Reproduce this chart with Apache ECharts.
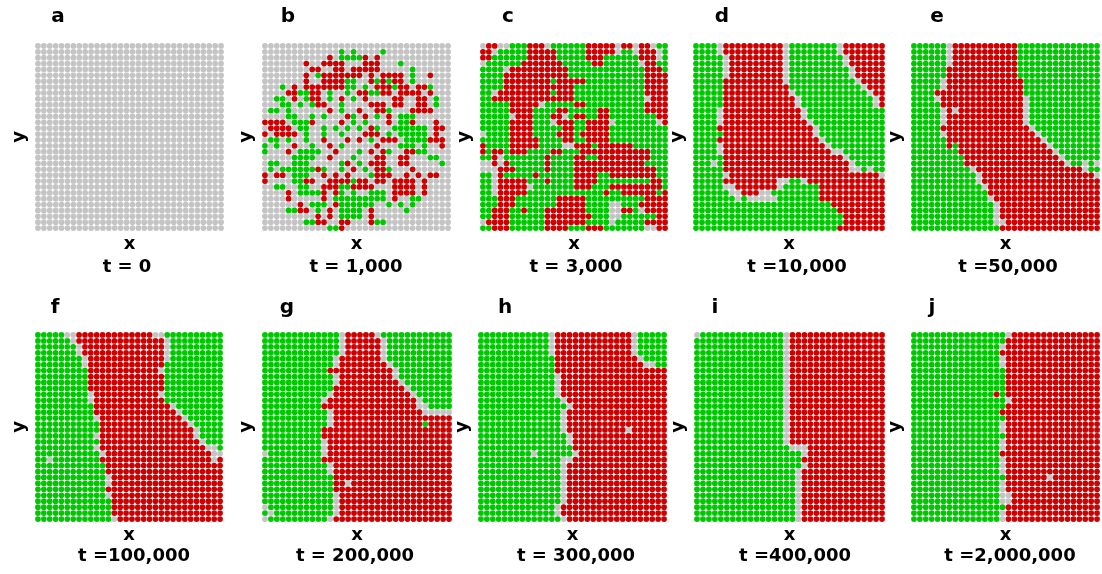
<!DOCTYPE html>
<html><head><meta charset="utf-8">
<script src="https://cdn.jsdelivr.net/npm/echarts@6/dist/echarts.min.js"></script>
<style>html,body{margin:0;padding:0;background:#fff}#c{width:1102px;height:574px}</style>
</head><body><div id="c"></div>
<script>
// ---- data ----
const panelLetters = ['a','b','c','d','e','f','g','h','i','j'];
const timeLabels = ['t = 0','t = 1,000','t = 3,000','t =10,000','t =50,000','t =100,000','t = 200,000','t = 300,000','t =400,000','t =2,000,000'];
// g = green, r = red, . = empty (grey); rows top to bottom
const panelA = [
"................................","................................","................................","................................",
"................................","................................","................................","................................",
"................................","................................","................................","................................",
"................................","................................","................................","................................",
"................................","................................","................................","................................",
"................................","................................","................................","................................",
"................................","................................","................................","................................",
"................................","................................","................................","................................"
];
const panelB = [
"................................",
".............g.g....g...........",
"...........r.ggggr.r............",
".......r..rrrr...rrr...g........",
"........rr..rr.rrrrr.....g......",
".......r.grrrrrrr.r.rrrr.g..r...",
".......r..rrrrgg..rgrgrr.g......",
"...g.r.rrrrrrrgg.g.rrrgrr.rrg...",
"....rrggrr.g..g.rrggrr.rrrr.r...",
"..gg.r.grr.g.r.g.r....rr..rr.g..",
"...gg.g.grr..g....rrr.rr..rr.g..",
".gg.g......r.g..r..rrg...rrrr...",
"....gg..g.g...rg.r.g.r.ggg......",
"rrrr.gggr....r.g.g...r.ggr...r..",
".rrrr.gg..g.g.g.g.rg..gggggg.rr.",
"r.rrrr.g..g..g...rrr.g.ggggg.r..",
".gg.g..g..r...r.r.g.rrr.ggggrrr.",
"g.g..r..g..r.g.....r...ggg.g..r.",
"g...r.gggg..r...g.r.rg..rrgg....",
".....gggg..r...g...rr..rr...gg..",
".gg..ggg.....gr.g.rrr..rr.....g.",
".g.ggggggrg..g.r.g.rrg...r......",
"r.rr.ggg..r.r.r...grrr..r.r.rr..",
"r....ggrr..rrrrgrr.rr.rrrr.r....",
"..gg..gg..rrrggrrrr...rrrr.r....",
"....r.ggggr.rg.g..ggg.rrrr.r....",
"....r.....r.ggggggggg.r..gg.....",
"......r.ggg.rgggggg..g.g.g......",
"....ggrr.g.r.gggg.r.....g.......",
".........r.r.gggg.r.............",
".......ggrr..rr...rgg...........",
"...........ggr.................."
];
const panelC = [
".rr..gggrrr.ggggggrrrrr.rr.rr.gg",
"rr.gggggrrrrrgggggrrrrr.gg.rrr.g",
"rrggggggrrrrrgggggrrrggggggrrr.g",
".ggggggrrrrrrrgggggrrgggggg.rrgg",
"gggg.rrrrrrrrrrgggggggggggggrrrg",
"ggggrrrrrrrrrrrgggggggggggggrrrr",
"ggggrrrrrrrrgrrrrrggggggggggrrrr",
"ggggrrrrrrrrrrrrggggggggggggrrrr",
"gg.rrrrrrrrrgrrrggggggggggggrrrr",
"ggrrrrrrrrrrrrrrgggggggggggg.rrr",
"gggggrrrrr.gggggrrggggggggggrrrr",
"gggggrrrrggggrrgggggrrggggggrrrr",
"ggggg.rrrgggrr.grrggrrggggggggrr",
"gggggrrrrggg.rrrggrrrr.ggggggg.r",
"gggggrrrrgggggrrggrrrrgggggggggg",
".ggggrrrrggggrrrgrrrrrgggggggggg",
"gggggrrrrrggggrrggrrrrgggggggggg",
"rggggrrrrrgggg..rrrgrrrrrrgggggg",
"rgrrgrrrggggrrgggrrrrrrrrrrrrggg",
"ggr.gggggggrggggrrggrrrrrrrrrggg",
"..r.rggggggrggggrrrrrrrrrrrrgggg",
"...rrrgggggrggggrrrrrrrrrrrrrrgg",
"gg.rgggggrggggggrrrrggrrrrrrrrgg",
"gg.rrrrrgggrggggrrrrgggggggggrrg",
"gg.rrrrr.gggggggrrrgggrrrrrrrrrg",
"gg.rrrrrgggggggggggggrggrrrrrrgr",
"gggrrrgggggggrrrrrggggggggggrrrr",
"gggrrrgggggggrrrrrgggg..gggrrrrr",
"ggrrrggrgggrrrrrrrgggg..rrg.rrrr",
"ggrrrggggggrrrrrrrrggg..ggggggrr",
".rrrrggggggrrrrrrrgggg.gggggrrrr",
"ggrrrggggggrrrrgggrrrggggggg..rr"
];
const panelD = [
"gggg.rrrrrrrrrr.gggggggg.rrrrrrr",
"gggg.rrrrrrrrrr.gggggggg.rrrrrrr",
"ggggg.rrrrrrrrr.ggggggggg.rrrrrr",
"ggggg.rrrrrrrrr.ggggggggg.rrrrrr",
"ggggg.rrrrrrrrr.gggggggggg.rrrrr",
"ggggg.rrrrrrrrr.gggggggggg.rrrrr",
"gggggrrrrrrrrrr.ggggggggggg.rrrr",
"gggggrrrrrrrrrrrgggggggggggg.rrr",
"gggggrrrrrrrrrrr.gggggggggggg.rr",
"gggggrrrrrrrrrrrr.gggggggggggg.r",
"gggggrrrrrrrrrrrr.gggggggggggg.r",
"gggg.rrrrrrrrrrrrr.ggggggggggggg",
"gggg.rrrrrrrrrrrrr.ggggggggggggg",
"gggg.rrrrrrrrrrrrrr.gggggggggggg",
"ggggrrrrrrrrrrrrrrrr.ggggggggggg",
"gggggrrrrrrrrrrrrrrr.ggggggggggg",
"ggggrrrrrrrrrrrrrrrrr.gggggggggg",
"gggg.rrrrrrrrrrrrrrrrr.ggggggggg",
"gggg.rrrrrrrrrrrrrrrrrr..ggggggg",
"gggggrrrrrrrrrrrrrrrrrrrr.gggggg",
"ggg.grrrrrrrrrrrrrrrrrrrrr.ggggg",
"gggggrrrrrrrrrrrrrrrrrrrrr..g.gg",
"ggggg.rrrrrrrrrrrrrrrrrrrrrrrrr.",
"gggggrrrrrrrrr..gg.rrrrrrrrrrrrr",
"ggggg..rrrrrrr.ggggggrrrrrrrrrrr",
"gggggg..rrr..ggggggggrrrrrrrrrrr",
"ggggggg.g.....gggggggrrrrrrrrrrr",
"gggggggggggggggggggggggrrrrrrrrr",
"ggggggggggggggggggggggggrrrrrrrr",
"gggggggggggggggggggggggggrrrrrrr",
"gggggggggggggggggggggggggrrrrrrr",
"ggggggggggggggggggggggggrrrrrrrr"
];
const panelE = [
"gggggg.rrrrrrrrrrrgggggggggggggg",
"gggggg.rrrrrrrrrrrgggggggggggggg",
"gggggg.rrrrrrrrrrrgggggggggggggg",
"gggggg.rrrrrrrrrrrgggggggggggggg",
"ggggggrrrrrrrrrrrrgggggggggggggg",
"ggggggrrrrrrrrrrrrgggggggggggggg",
"ggggg.rrrrrrrrrrrrrggggggggggggg",
"ggggg.rrrrrrrrrrrrrggggggggggggg",
"ggggrrrrrrrrrrrrrrrggggggggggggg",
"gggg.rrrrrrrrrrrrrr.gggggggggggg",
"gggggrrrrrrrrrrrrrr.gggggggggggg",
"ggggg.r.rrrrrrrrrrr.gggggggggggg",
"ggggg.rrrrrrrrrrrrr.gggggggggggg",
"ggggg.rrrrrrrrrrrrr.gggggggggggg",
"gggggrrrrrrrrrrrrrrr.ggggggggggg",
"ggggg.rrrrrrrrrrrrrrr.gggggggggg",
"ggggggrrrrrrrrrrrrrrrr.ggggggggg",
"ggggggrgrrrrrrrrrrrrrrr.gggggggg",
"ggggggggrrrrrrrrrrrrrrrr.ggggggg",
"gggggggggrrrrrrrrrrrrrrrr.gggggg",
"gggggggggrrrrrrrrrrrrrrrrr.gg.g.",
"gggggggggg.rrrrrrrrrrrrrrrrrr.gg",
"ggggggggggg.rrrrrrrrrrrrrrrrrrr.",
"ggggggggggg.rrrrrrrrrrrrrrrrrrrr",
"gggggggggggg.rrrrrrrrrrrrrrrrrrr",
"gggggggggggggrrrrrrrrrrrrrrrrrrr",
"ggggggggggggg.rrrrrrrrrrrrrrrrrr",
"gggggggggggggg.rrrrrrrrrrrrrrrrr",
"gggggggggggggg.rrrrrrrrrrrrrrrrr",
"gggggggggggggg.rrrrrrrrrrrrrrrrr",
"gggggggggggggg..rrrrrrrrrrrrrrrr",
"gggggggggggggggrrrrrrrrrrrrrrrrr"
];
const panelF = [
"ggggg..rrrrrrrrrrrrr..gggggggggg",
"gggggg.rrrrrrrrrrrrrrr.ggggggggg",
"ggggggg.rrrrrrrrrrrrrr.ggggggggg",
"ggggggg.rrrrrrrrrrrrrr.ggggggggg",
"gggggggg.rrrrrrrrrrrrr.ggggggggg",
"gggggggg.rrrrrrrrrrrrrgggggggggg",
"gggggggggrrrrrrrrrrrr.gggggggggg",
"gggggggggrrrrrrrrrrrrrgggggggggg",
"gggggggggrrrrrrrrrrrrrgggggggggg",
"gggggggggrrrrrrrrrrrrrgggggggggg",
"ggggggggg.rrrrrrrrrrr.gggggggggg",
"ggggggggg.rrrrrrrrrrrrgggggggggg",
"ggggggggggrrrrrrrrrrrrr.gggggggg",
"ggggggggggrrrrrrrrrrrrrr.ggggggg",
"gggggggggg.rrrrrrrrrrrrrr.gggggg",
"gggggggggggrrrrrrrrrrrrrrr.ggggg",
"gggggggggggrrrrrrrrrrrrrrrr.gggg",
"gggggggggg.rrrrrrrrrrrrrrrr.gggg",
"gggggggggggrrrrrrrrrrrrrrrrr.ggg",
"gggggggggg.rrrrrrrrrrrrrrrrrr..g",
"ggggggggggg.rrrrrrrrrrrrrrrrrr..",
"gg.ggggggggrrrrrrrrrrrrrrrrrrr.r",
"ggggggggggggrrrrrrrrrrrrrrrrrrrr",
"ggggggggggggrrrrrrrrrrrrrrrrrrrr",
"gggggggggggg.rrrrrrrrrrrrrrrrrrr",
"gggggggggggg.rrrrrrrrrrrrrrrrrrr",
"ggggggggggggrrrrrrrrrrrrrrrrrrrr",
"gggggggggggg.rrrrrrrrrrrrrrrrrrr",
"gggggggggggggrrrrrrrrrrrrrrrrrrr",
"gggggggggggggrrrrrrrrrrrrrrrrrrr",
"gggggggggggggrrrrrrrrrrrrrrrrrrr",
"ggggggggggggg.rrrrrrrrrrrrrrrrrr"
];
const panelG = [
"ggggggggggggg.rrrrr.gggggggggggg",
"ggggggggggggg.rrrrrr.ggggggggggg",
"ggggggggggggg.rrrrrr.ggggggggggg",
"ggggggggggggg.rrrrrr.ggggggggggg",
"gggggggggggg.rrrrrrr.ggggggggggg",
"gggggggggggg.rrrrrrrr.gggggggggg",
"gggggggggggrrrrrrrrrrr.ggggggggg",
"gggggggggggg.rrrrrrrrr.ggggggggg",
"gggggggggggg.rrrrrrrrrr.gggggggg",
"ggggggggggggrrrrrrrrrrrr.ggggggg",
"ggggggggggg.rrrrrrrrrrrrr.gggggg",
"gggggggggg.rrrrrrrrrrrrrrr.ggggg",
"ggggggggggrrrrrrrrrrrrrrrr..gggg",
"ggggggggggg.rrrrrrrrrrrrrrr.....",
"ggggggggggg.rrrrrrrrrrrrrrrrrrrr",
"ggggggggggg.rrrrrrrrrrrrrrrgrrrr",
"ggggggggggrrrrrrrrrrrrrrrrrrrrrr",
"ggggggggggrrrrrrrrrrrrrrrrrrrrrr",
"gggggggggg.rrrrrrrrrrrrrrrrrrrrr",
"gggggggggg.rrrrrrrrrrrrrrrrrrrrr",
".ggggggggg.rrrrrrrrrrrrrrrrrrrrr",
"ggggggggggrrrrrrrrrrrrrrrrrrrrrr",
"ggggggggggg.rrrrrrrrrrrrrrrrrrrr",
"ggggggggggg.rrrrrrrrrrrrrrrrrrrr",
"ggggggggggggrrrrrrrrrrrrrrrrrrrr",
"ggggggggggggrr.rrrrrrrrrrrrrrrrr",
"ggggggggggggrrrrrrrrrrrrrrrrrrrr",
"gggggggggggg.rrrrrrrrrrrrrrrrrrr",
"gggggggggggg.rrrrrrrrrrrrrrrrrrr",
".ggggggggggg.rrrrrrrrrrrrrrrrrrr",
"g.gggggggggg.rrrrrrrrrrrrrrrrrrr",
".gggggggggg.rrrrrrrrrrrrrrrrrrrr"
];
const panelH = [
"gggggggggggg.rrrrrrrrrrrrr.ggggg",
"gggggggggggg.rrrrrrrrrrrrr.ggggg",
"gggggggggggg.rrrrrrrrrrrrr.ggggg",
"gggggggggggg.rrrrrrrrrrrrr.ggggg",
"gggggggggggggrrrrrrrrrrrrrr.gggg",
"gggggggggggggrrrrrrrrrrrrrrr..gg",
"gggggggggggggrrrrrrrrrrrrrrrrrrr",
"ggggggggggggg.rrrrrrrrrrrrrrrrrr",
"ggggggggggggg.rrrrrrrrrrrrrrrrrr",
"ggggggggggggg.rrrrrrrrrrrrrrrrrr",
"ggggggggggggg.rrrrrrrrrrrrrrrrrr",
"gggggggggggggg.rrrrrrrrrrrrrrrrr",
"ggggggggggggggg.rrrrrrrrrrrrrrrr",
"gggggggggggggg.rrrrrrrrrrrrrrrrr",
"gggggggggggggg.rrrrrrrrrrrrrrrrr",
"gggggggggggggg.rrrrrrrrrrrrrrrrr",
"gggggggggggggg.rrrrrrrrrr.rrrrrr",
"ggggggggggggggg.rrrrrrrrrrrrrrrr",
"ggggggggggggggg.rrrrrrrrrrrrrrrr",
"ggggggggggggggggrrrrrrrrrrrrrrrr",
"ggggggggg.gggggg.rrrrrrrrrrrrrrr",
"gggggggggggggg..rrrrrrrrrrrrrrrr",
"gggggggggggggg.rrrrrrrrrrrrrrrrr",
"gggggggggggggg.rrrrrrrrrrrrrrrrr",
"gggggggggggggg.rrrrrrrrrrrrrrrrr",
"gggggggggggggg.rrrrrrrrrrrrrrrrr",
"gggggggggggggg.rrrrrrrrrrrrrrrrr",
"gggggggggggggg.rrrrrrrrrrrrrrrrr",
"gggggggggggggg.rrrrrrrrrrrrrrrrr",
"ggggggggggggg.rrrrrrrrrrrrrrrrrr",
"ggggggggggggg.rrrrrrrrrrrrrrrrrr",
"gggggggggggggg.rrrrrrrrrrrrrrrrr"
];
const panelI = [
".gggggggggggggg.rrrrrrrrrrrrrrrr",
"ggggggggggggggg.rrrrrrrrrrrrrrrr",
"ggggggggggggggg.rrrrrrrrrrrrrrrr",
"ggggggggggggggg.rrrrrrrrrrrrrrrr",
"ggggggggggggggg.rrrrrrrrrrrrrrrr",
"ggggggggggggggg.rrrrrrrrrrrrrrrr",
"ggggggggggggggg.rrrrrrrrrrrrrrrr",
"ggggggggggggggg.rrrrrrrrrrrrrrrr",
"ggggggggggggggg.rrrrrrrrrrrrrrrr",
"ggggggggggggggg.rrrrrrrrrrrrrrrr",
"ggggggggggggggg.rrrrrrrrrrrrrrrr",
"ggggggggggggggg.rrrrrrrrrrrrrrrr",
"ggggggggggggggg.rrrrrrrrrrrrrrrr",
"ggggggggggggggg.rrrrrrrrrrrrrrrr",
"ggggggggggggggg.rrrrrrrrrrrrrrrr",
"ggggggggggggggg.rrrrrrrrrrrrrrrr",
"ggggggggggggggg.rrrrrrrrrrrrrrrr",
"ggggggggggggggg.rrrrrrrrrrrrrrrr",
"ggggggggggggggg.rrrrrrrrrrrrrrrr",
"gggggggggggggggg...rrrrrrrrrrrrr",
"gggggggggggggggggg.rrrrrrrrrrrrr",
"ggggggggggggggggggrrrrrrrrrrrrrr",
"gggggggggggggggggg.rrrrrrrrrrrrr",
"ggggggggggggggggg.rrrrrrrrrrrrrr",
"ggggggggggggggggg.rrrrrrrrrrrrrr",
"ggggggggggggggggg.rrrrrrrrrrrrrr",
"ggggggggggggggggg.rrrrrrrrrrrrrr",
"ggggggggggggggggg.rrrrrrrrrrrrrr",
"ggggggggggggggggg.rrrrrrrrrrrrrr",
"ggggggggggggggggg.rrrrrrrrrrrrrr",
"ggggggggggggggggg.rrrrrrrrrrrrrr",
"ggggggggggggggggg.rrrrrrrrrrrrrr"
];
const panelJ = [
"gggggggggggggggg.rrrrrrrrrrrrrrr",
"ggggggggggggggggrrrrrrrrrrrrrrrr",
"ggggggggggggggg.rrrrrrrrrrrrrrrr",
"gggggggggggggggrrrrrrrrrrrrrrrrr",
"ggggggggggggggg.rrrrrrrrrrrrrrrr",
"ggggggggggggggg.rrrrrrrrrrrrrrrr",
"ggggggggggggggggrrrrrrrrrrrrrrrr",
"ggggggggggggggggrrrrrrrrrrrrrrrr",
"ggggggggggggggggrrrrrrrrrrrrrrrr",
"ggggggggggggggggrrrrrrrrrrrrrrrr",
"ggggggggggggggrgrrrrrrrrrrrrrrrr",
"gggggggggggggggg.rrrrrrrrrrrrrrr",
"ggggggggggggggggrrrrrrrrrrrrrrrr",
"gggggggggggggggrrrrrrrrrrrrrrrrr",
"ggggggggggggggggrrrrrrrrrrrrrrrr",
"ggggggggggggggg.rrrrrrrrrrrrrrrr",
"ggggggggggggggg.rrrrrrrrrrrrrrrr",
"ggggggggggggggggrrrrrrrrrrrrrrrr",
"ggggggggggggggg.rrrrrrrrrrrrrrrr",
"ggggggggggggggg.rrrrrrrrrrrrrrrr",
"gggggggggggggggrrrrrrrrrrrrrrrrr",
"ggggggggggggggg.rrrrrrrrrrrrrrrr",
"ggggggggggggggg.rrrrrrrrrrrrrrrr",
"ggggggggggggggg.rrrrrrrrrrrrrrrr",
"ggggggggggggggggrrrrrrr.rrrrrrrr",
"ggggggggggggggg.rrrrrrrrrrrrrrrr",
"ggggggggggggggg.rrrrrrrrrrrrrrrr",
"ggggggggggggggg..rrrrrrrrrrrrrrr",
"ggggggggggggggg..rrrrrrrrrrrrrrr",
"ggggggggggggggggrrrrrrrrrrrrrrrr",
"ggggggggggggggg.rrrrrrrrrrrrrrrr",
"ggggggggggggggg.rrrrrrrrrrrrrrrr"
];
const boards = [panelA, panelB, panelC, panelD, panelE, panelF, panelG, panelH, panelI, panelJ];

// ---- layout / style ----
const stateColors = { g: '#00c800', r: '#cc0000', '.': '#c4c4c4' };
const boxes = [
  [35, 43, 189, 188], [262, 43, 189, 188], [480, 43, 188, 188], [693, 43, 192, 188], [911, 43, 189, 188],
  [35, 332, 188, 190], [262, 332, 190, 190], [478, 332, 189, 190], [694, 332, 191, 190], [911, 332, 189, 190]
];
const letterPos = [[58,17],[288,17],[508,17],[722,17],[937,17],[55,308],[287,308],[505,308],[715,308],[932,308]];
const tPos = [[127,267],[356,267],[576,267],[797,267],[1008,267],[134,556],[355,556],[576,556],[795,556],[1010,556]];
const FONT = '"DejaVu Sans", Verdana, sans-serif';

const grids = [], xAxes = [], yAxes = [], series = [], graphics = [];
boards.forEach((rows, p) => {
  const [l, t, w, h] = boxes[p];
  const nRows = rows.length;
  const nCols = Math.max(...rows.map(r => r.length));
  grids.push({ left: l, top: t, width: w, height: h, containLabel: false });
  const nameStyle = { fontFamily: FONT, fontWeight: 'bold', fontSize: 18, color: '#000' };
  xAxes.push({ gridIndex: p, type: 'value', min: -0.5, max: nCols - 0.5, show: true,
    axisLine: { show: false }, axisTick: { show: false }, axisLabel: { show: false }, splitLine: { show: false },
    name: 'x', nameLocation: 'middle', nameGap: 4, nameTextStyle: nameStyle });
  yAxes.push({ gridIndex: p, type: 'value', min: -0.5, max: nRows - 0.5, inverse: true, show: true,
    axisLine: { show: false }, axisTick: { show: false }, axisLabel: { show: false }, splitLine: { show: false },
    name: 'y', nameLocation: 'middle', nameGap: 7, nameTextStyle: nameStyle });
  const cell = Math.min(w / nCols, h / nRows);
  ['.', 'g', 'r'].forEach(st => {
    const data = [];
    rows.forEach((row, ri) => { for (let ci = 0; ci < row.length; ci++) if (row[ci] === st) data.push([ci, ri]); });
    series.push({ type: 'scatter', xAxisIndex: p, yAxisIndex: p, data, symbol: 'circle',
      symbolSize: cell * 0.97, itemStyle: { color: stateColors[st], opacity: 1 }, silent: true, animation: false });
  });
  graphics.push({ type: 'text', x: letterPos[p][0], y: letterPos[p][1],
    style: { text: panelLetters[p], font: 'bold 20px ' + FONT, fill: '#000', align: 'center', verticalAlign: 'middle' } });
  graphics.push({ type: 'text', x: tPos[p][0], y: tPos[p][1],
    style: { text: timeLabels[p], font: 'bold 18px ' + FONT, fill: '#000', align: 'center', verticalAlign: 'middle' } });
});

const chart = echarts.init(document.getElementById('c'), null, { renderer: 'canvas' });
chart.setOption({ animation: false, backgroundColor: '#fff', grid: grids, xAxis: xAxes, yAxis: yAxes, series, graphic: graphics });
</script></body></html>
